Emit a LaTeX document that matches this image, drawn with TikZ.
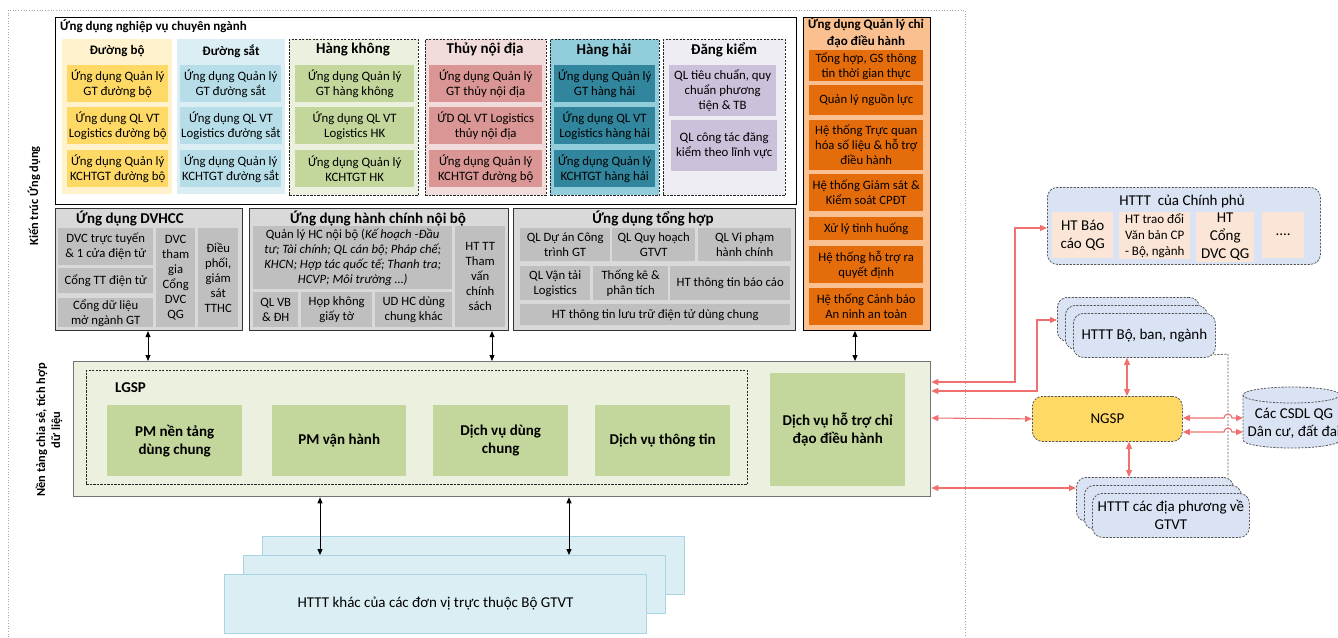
\documentclass[tikz,border=0pt]{standalone}
\usepackage{fontspec}
\setmainfont{Carlito}
\usetikzlibrary{arrows.meta}
\definecolor{dbBg}{HTML}{FFF2CC}
\definecolor{dbIn}{HTML}{FFD966}
\definecolor{dsBg}{HTML}{DAEEF3}
\definecolor{dsIn}{HTML}{B7DEE8}
\definecolor{hkBg}{HTML}{EBF1DE}
\definecolor{hkIn}{HTML}{C3D69B}
\definecolor{tnBg}{HTML}{F2DCDB}
\definecolor{tnIn}{HTML}{DA9694}
\definecolor{hhBg}{HTML}{92CDDC}
\definecolor{hhIn}{HTML}{31859C}
\definecolor{dkBg}{HTML}{EFEDF4}
\definecolor{dkIn}{HTML}{CCC1DA}
\definecolor{orBg}{HTML}{FAC090}
\definecolor{orIn}{HTML}{E46C0A}
\definecolor{gyBg}{HTML}{D9D9D9}
\definecolor{gyIn}{HTML}{BFBFBF}
\definecolor{ltBlue}{HTML}{DAE3F3}
\definecolor{peachc}{HTML}{FBE5D6}
\definecolor{redc}{HTML}{F07070}
\definecolor{btBorder}{HTML}{A9D4E4}
\newcommand\dgNorm{\fontsize{12.8}{15}\selectfont}
\newcommand\dgGray{\fontsize{12.7}{15}\selectfont}
\newcommand\dgHeadS{\fontsize{13}{17}\selectfont\bfseries}
\newcommand\dgHead{\fontsize{15}{17}\selectfont\bfseries}
\newcommand\dgSide{\fontsize{12.4}{15}\selectfont\bfseries}
\newcommand\dgBig{\fontsize{15}{18}\selectfont}
\newcommand\dgSmall{\fontsize{13}{16}\selectfont}
\newcommand\dgPlat{\fontsize{15}{18}\selectfont\bfseries}
\begin{document}
\begin{tikzpicture}[x=1pt,y=-1pt,
 bx/.style={anchor=north west, inner sep=1pt, align=center, font=\dgNorm, text=black},
 sz/.style 2 args={minimum width=#1pt, minimum height=#2pt},
 hd/.style={inner sep=0pt, align=center, font=\dgHead},
 hds/.style={inner sep=0pt, align=center, font=\dgHeadS},
 dsh/.style={draw=black!85, dash pattern=on 2.2pt off 1.3pt, line width=0.8pt},
 gbox/.style={bx, draw=black!80, line width=1.1pt, fill=gyBg},
 gin/.style={bx, fill=gyIn, font=\dgGray},
 orin/.style={bx, fill=orIn, minimum width=114pt, font=\dgGray},
 grn/.style={bx, fill=hkIn, font=\dgPlat},
 rnd/.style={bx, draw=black!65, dash pattern=on 2.2pt off 1.3pt, line width=0.8pt, rounded corners=10pt, fill=ltBlue, font=\dgBig},
 pch/.style={bx, fill=peachc, font=\dgBig},
 stk/.style={bx, draw=btBorder, line width=1pt, fill=dsBg, font=\dgBig},
 barr/.style={{Triangle[length=6pt,width=5pt]}-{Triangle[length=6pt,width=5pt]}, line width=0.9pt, draw=black},
 rarr/.style={{Triangle[length=7pt,width=6pt]}-{Triangle[length=7pt,width=6pt]}, line width=1.1pt, draw=redc},
]
\useasboundingbox (0,0) rectangle (1338,637);
% outer dotted frame
\draw[gray!70, dotted, line width=0.7pt] (8,637) -- (8,10) -- (965,10) -- (965,637);

% ---- Ung dung nghiep vu chuyen nganh
\node[bx, draw=black, line width=0.9pt, sz={741}{187}] (nv) at (55,17) {};
\node[anchor=west, inner sep=0pt, font=\dgHeadS] (nvt) at (60,26) {Ứng dụng nghiệp vụ chuyên ngành};

\node[bx, fill=dbBg, sz={110}{155}] (dbb) at (62,39) {};
\node[hds] (dbt) at (117,51) {Đường bộ};
\node[bx, fill=dbIn, sz={101}{37}] (db1) at (67,65) {Ứng dụng Quản lý\\GT đường bộ};
\node[bx, fill=dbIn, sz={101}{37}] (db2) at (67,107) {Ứng dụng QL VT\\Logistics đường bộ};
\node[bx, fill=dbIn, sz={101}{37}] (db3) at (67,150) {Ứng dụng Quản lý\\KCHTGT đường bộ};

\node[bx, fill=dsBg, sz={108}{155}] (dsb) at (177,39) {};
\node[hds] (dst) at (231,51) {Đường sắt};
\node[bx, fill=dsIn, sz={101}{37}] (ds1) at (180,65) {Ứng dụng Quản lý\\GT đường sắt};
\node[bx, fill=dsIn, sz={101}{37}] (ds2) at (180,107) {Ứng dụng QL VT\\Logistics đường sắt};
\node[bx, fill=dsIn, sz={101}{37}] (ds3) at (180,150) {Ứng dụng Quản lý\\KCHTGT đường sắt};

\node[bx, dsh, fill=hkBg, sz={129}{156}] (hkb) at (289,39) {};
\node[hd] (hkt) at (353,50) {Hàng không};
\node[bx, fill=hkIn, sz={119}{37}] (hk1) at (295,65) {Ứng dụng Quản lý\\GT hàng không};
\node[bx, fill=hkIn, sz={119}{37}] (hk2) at (295,107) {Ứng dụng QL VT\\Logistics HK};
\node[bx, fill=hkIn, sz={119}{37}] (hk3) at (295,150) {Ứng dụng Quản lý\\KCHTGT HK};

\node[bx, dsh, fill=tnBg, sz={121}{156}] (tnb) at (425,39) {};
\node[hd] (tnt) at (485,50) {Thủy nội địa};
\node[bx, fill=tnIn, sz={113}{37}] (tn1) at (429,65) {Ứng dụng Quản lý\\GT thủy nội địa};
\node[bx, fill=tnIn, sz={113}{37}] (tn2) at (429,107) {ỨD QL VT Logistics\\thủy nội địa};
\node[bx, fill=tnIn, sz={113}{37}] (tn3) at (429,150) {Ứng dụng Quản lý\\KCHTGT đường bộ};

\node[bx, dsh, fill=hhBg, sz={109}{156}] (hhb) at (550,39) {};
\node[hd] (hht) at (604,50) {Hàng hải};
\node[bx, fill=hhIn, sz={101}{37}] (hh1) at (554,65) {Ứng dụng Quản lý\\GT hàng hải};
\node[bx, fill=hhIn, sz={101}{37}] (hh2) at (554,107) {Ứng dụng QL VT\\Logistics hàng hải};
\node[bx, fill=hhIn, sz={101}{37}] (hh3) at (554,150) {Ứng dụng Quản lý\\KCHTGT hàng hải};

\node[bx, dsh, fill=dkBg, sz={122}{156}] (dkb) at (663,39) {};
\node[hd] (dkt) at (724,50) {Đăng kiểm};
\node[bx, fill=dkIn, sz={107}{51}] (dk1) at (669,65) {QL tiêu chuẩn, quy\\chuẩn phương\\tiện \& TB};
\node[bx, fill=dkIn, sz={106}{51}] (dk2) at (671,120) {QL công tác đăng\\kiểm theo lĩnh vực};

% ---- Ung dung quan ly chi dao dieu hanh
\node[bx, draw=black, line width=0.9pt, fill=orBg, sz={127}{313}] (orb) at (803,17) {};
\node[hds] (ort) at (866,33) {Ứng dụng Quản lý chỉ\\đạo điều hành};
\node[orin, minimum height=31pt] (or1) at (809,50) {Tổng hợp, GS thông\\tin thời gian thực};
\node[orin, minimum height=30pt] (or2) at (809,85) {Quản lý nguồn lực};
\node[orin, minimum height=50pt] (or3) at (809,120) {Hệ thống Trực quan\\hóa số liệu \& hỗ trợ\\điều hành};
\node[orin, minimum height=37pt] (or4) at (809,174) {Hệ thống Giám sát \&\\Kiểm soát CPĐT};
\node[orin, minimum height=23pt] (or5) at (809,217) {Xử lý tình huống};
\node[orin, minimum height=37pt] (or6) at (809,246) {Hệ thống hỗ trợ ra\\quyết định};
\node[orin, minimum height=37pt] (or7) at (809,288) {Hệ thống Cảnh báo\\An ninh an toàn};

% ---- gray application groups
\node[gbox, sz={187}{122}] (dv) at (55,208) {};
\node[hd] (dvt) at (130,219) {Ứng dụng DVHCC};
\node[gin, sz={95}{37}] (dv1) at (58,228) {DVC trực tuyến\\\& 1 cửa điện tử};
\node[gin, sz={95}{25}] (dv2) at (58,268) {Cổng TT điện tử};
\node[gin, sz={95}{29}] (dv3) at (58,298) {Cổng dữ liệu\\mở ngành GT};
\node[gin, sz={39}{99}] (dv4) at (156,228) {DVC\\tham\\gia\\Cổng\\DVC\\QG};
\node[gin, sz={40}{99}] (dv5) at (198,228) {Điều\\phối,\\giám\\sát\\TTHC};

\node[gbox, sz={259}{122}] (hc) at (249,208) {};
\node[hd] (hct) at (378,219) {Ứng dụng hành chính nội bộ};
\node[gin, sz={199}{63}] (hc1) at (253,226) {Quản lý HC nội bộ (\textit{Kế hoạch -Đầu}\\\textit{tư; Tài chính; QL cán bộ; Pháp chế;}\\\textit{KHCN; Hợp tác quốc tế; Thanh tra;}\\\textit{HCVP; Môi trường …)}};
\node[gin, sz={45}{35}] (hc2) at (253,292) {QL VB\\\& ĐH};
\node[gin, sz={71}{35}] (hc3) at (301,292) {Họp không\\giấy tờ};
\node[gin, sz={77}{35}] (hc4) at (375,292) {UD HC dùng\\chung khác};
\node[gin, sz={50}{101}] (hc5) at (455,226) {HT TT\\Tham\\vấn\\chính\\sách};

\node[gbox, sz={282}{122}] (th) at (513,208) {};
\node[hd] (tht) at (653,219) {Ứng dụng tổng hợp};
\node[gin, sz={90}{33}] (th1) at (520,228) {QL Dự án Công\\trình GT};
\node[gin, sz={83}{33}] (th2) at (612,228) {QL Quy hoạch\\GTVT};
\node[gin, sz={93}{33}] (th3) at (698,228) {QL Vi phạm\\hành chính};
\node[gin, sz={70}{34}] (th4) at (520,266) {QL Vận tải\\Logistics};
\node[gin, sz={75}{34}] (th5) at (593,266) {Thống kê \&\\phân tích};
\node[gin, sz={120}{34}] (th6) at (670,266) {HT thông tin báo cáo};
\node[gin, sz={270}{21}] (th7) at (520,304) {HT thông tin lưu trữ điện tử dùng chung};

% ---- vertical labels
\node[rotate=90, font=\dgSide, inner sep=0pt] (lbl1) at (34,196) {Kiến trúc Ứng dụng};
\node[rotate=90, font=\dgSide, inner sep=0pt, align=center] (lbl2) at (49,430) {Nền tảng chia sẻ, tích hợp\\dữ liệu};

% ---- platform
\node[bx, draw=black!55, line width=1.3pt, fill=hkBg, sz={857}{135}] (pl) at (73,361) {};
\node[bx, dsh, sz={661}{114}] (lg) at (86,370) {};
\node[anchor=west, inner sep=0pt, font=\dgPlat] (lgt) at (115,388) {LGSP};
\node[grn, sz={135}{71}] (p1) at (107,405) {PM nền tảng\\dùng chung};
\node[grn, sz={134}{71}] (p2) at (272,405) {PM vận hành};
\node[grn, sz={135}{71}] (p3) at (433,405) {Dịch vụ dùng\\chung};
\node[grn, sz={135}{71}] (p4) at (595,405) {Dịch vụ thông tin};
\node[grn, sz={135}{113}] (p5) at (770,373) {Dịch vụ hỗ trợ chỉ\\đạo điều hành};

% ---- bottom stack
\node[stk, sz={422}{58}] (ht1) at (262,536) {};
\node[stk, sz={422}{58}] (ht2) at (243,555) {};
\node[stk, sz={422}{59}] (ht3) at (224,574) {HTTT khác của các đơn vị trực thuộc Bộ GTVT};

% ---- black arrows
\coordinate (cA) at (148,0);
\coordinate (cB) at (492,0);
\coordinate (cC) at (855,0);
\coordinate (cD) at (320,0);
\coordinate (cE) at (569,0);
\draw[barr] (dv.south -| cA) -- (pl.north -| cA);
\draw[barr] (hc.south -| cB) -- (pl.north -| cB);
\draw[barr] (orb.south -| cC) -- (pl.north -| cC);
\draw[barr] (pl.south -| cD) -- (ht2.north -| cD);
\draw[barr] (pl.south -| cE) -- (ht2.north -| cE);

% ---- right side
\node[rnd, sz={273}{77}] (cp) at (1047,187) {};
\node[inner sep=0pt, font=\dgBig] (cpt) at (1182,201) {HTTT\ \ của Chính phủ};
\node[pch, sz={61}{46}] (cp1) at (1052,212) {HT Báo\\cáo QG};
\node[pch, sz={71}{46}, font=\dgSmall] (cp2) at (1119,212) {HT trao đổi\\Văn bản CP\\- Bộ, ngành};
\node[pch, sz={58}{46}] (cp3) at (1196,212) {HT\\Cổng\\DVC QG};
\node[pch, sz={42}{46}] (cp4) at (1262,212) {....};

\node[rnd, sz={142}{44}] (bb1) at (1057,297) {};
\node[rnd, sz={142}{44}] (bb2) at (1065,305) {};
\node[rnd, sz={142}{44}] (bb3) at (1073,313) {HTTT Bộ, ban, ngành};

\node[rnd, fill=dbIn, sz={150}{45}] (ng) at (1032,396) {NGSP};

\draw[dsh, draw=black!65, fill=ltBlue] (1243,395) -- (1243,440) arc[start angle=180, end angle=360, x radius=48.5pt, y radius=8pt] -- (1340,395) arc[start angle=0, end angle=180, x radius=48.5pt, y radius=8pt] -- cycle;
\draw[dsh, draw=black!65] (1243,395) arc[start angle=180, end angle=360, x radius=48.5pt, y radius=8pt];
\node[inner sep=0pt, align=center, font=\dgBig] (cs) at (1294,423) {Các CSDL QG\\Dân cư, đất đai};
\coordinate (csw) at (1243,0);

\node[rnd, sz={157}{44}] (dp1) at (1076,477) {};
\node[rnd, sz={157}{44}] (dp2) at (1084,485) {};
\node[rnd, sz={157}{44}] (dp3) at (1092,493) {HTTT các địa phương về\\GTVT};

% dashed link
\coordinate (v3) at (1228,0);
\draw[dsh, draw=black!65] ([xshift=-2pt,yshift=3pt]bb3.south east) -- (v3 |- 0,354) -- (v3 |- dp1.north);

% ---- red arrows
\coordinate (r1) at (0,382);
\coordinate (r2) at (0,391);
\coordinate (r3) at (0,418);
\coordinate (r4) at (0,488);
\coordinate (r5) at (0,228);
\coordinate (r6) at (0,320);
\coordinate (r7) at (0,432);
\coordinate (v1) at (1127,0);
\coordinate (v2) at (1129,0);
\draw[rarr] (pl.east |- r1) -- (1015,382) -- (1015,228) -- (cp.west |- r5);
\draw[rarr] (pl.east |- r2) -- (1037,391) -- (1037,320) -- (bb1.west |- r6);
\draw[rarr] (pl.east |- r3) -- (ng.west);
\draw[rarr] (pl.east |- r4) -- (dp1.west |- r4);
\draw[rarr] (ng.north -| v1) -- (bb3.south -| v1);
\draw[rarr] (ng.south -| v2) -- (dp1.north -| v2);
\draw[rarr] (ng.east |- r3) -- (1224,418) arc[start angle=180, end angle=0, radius=4pt] -- (csw |- r3);
\draw[rarr] (ng.east |- r7) -- (1224,432) arc[start angle=180, end angle=0, radius=4pt] -- (csw |- r7);
\end{tikzpicture}
\end{document}
